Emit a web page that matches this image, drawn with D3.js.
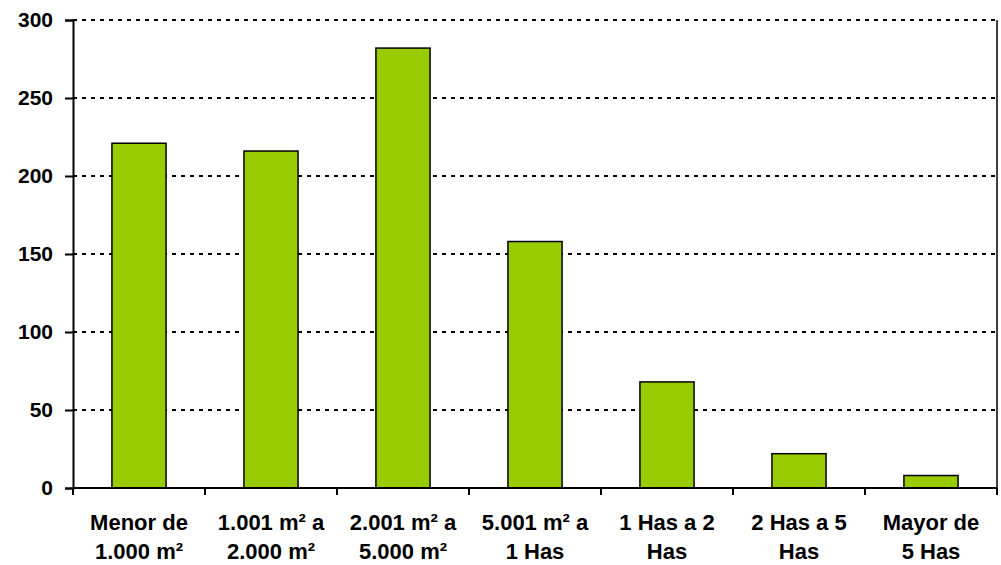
<!DOCTYPE html>
<html>
<head>
<meta charset="utf-8">
<script src="https://cdn.jsdelivr.net/npm/d3@7"></script>
<style>
  body { margin: 0; background: #fff; }
  svg { display: block; }
  text { font-family: "Liberation Sans", Arial, sans-serif; font-weight: bold; fill: #000; }
</style>
</head>
<body>
<svg width="1001" height="565"></svg>
<script>
// categories (two text lines each) and values
var categories = ["Menor de|1.000 m²", "1.001 m² a|2.000 m²", "2.001 m² a|5.000 m²",
  "5.001 m² a|1 Has", "1 Has a 2|Has", "2 Has a 5|Has", "Mayor de|5 Has"];
var values = [221, 216, 282, 158, 68, 22, 8];
var yTicks = [0, 50, 100, 150, 200, 250, 300];

var svg = d3.select("svg");
var plotLeft = 73, plotRight = 997, plotTop = 20, plotBottom = 488;

var x = d3.scaleBand()
  .domain(categories)
  .range([plotLeft, plotRight])
  .paddingInner(0.59)
  .paddingOuter(0.295);

var y = d3.scaleLinear()
  .domain([0, 300])
  .range([plotBottom, plotTop]);

// dashed gridlines
svg.append("g")
  .selectAll("line")
  .data(yTicks.filter(function(d) { return d > 0; }))
  .enter().append("line")
  .attr("x1", plotLeft).attr("x2", plotRight)
  .attr("y1", function(d) { return y(d); })
  .attr("y2", function(d) { return y(d); })
  .style("stroke", "#000")
  .style("stroke-width", 2)
  .style("stroke-dasharray", "4,5");

// right border
svg.append("line")
  .attr("x1", plotRight).attr("x2", plotRight)
  .attr("y1", plotTop).attr("y2", plotBottom)
  .style("stroke", "#000")
  .style("stroke-width", 1.5);

// bars
svg.append("g")
  .selectAll("rect")
  .data(values)
  .enter().append("rect")
  .attr("x", function(d, i) { return x(categories[i]); })
  .attr("y", function(d) { return y(d); })
  .attr("width", x.bandwidth())
  .attr("height", function(d) { return plotBottom - y(d); })
  .style("fill", "#99cc00")
  .style("stroke", "#000")
  .style("stroke-width", 1.5);

// y axis
var yAxis = svg.append("g")
  .attr("transform", "translate(" + plotLeft + ",0)")
  .call(d3.axisLeft(y).tickValues(yTicks).tickSize(8).tickPadding(12));
yAxis.select(".domain").style("stroke-width", 2);
yAxis.selectAll(".tick line").style("stroke-width", 2);
yAxis.selectAll("text")
  .style("font-size", "21px")
  .style("font-family", "'Liberation Sans', Arial, sans-serif")
  .style("font-weight", "bold");

// x axis: ticks at category boundaries
var bounds = d3.range(categories.length + 1).map(function(i) {
  return plotLeft + i * x.step();
});
svg.append("line")
  .attr("x1", plotLeft).attr("x2", plotRight)
  .attr("y1", plotBottom).attr("y2", plotBottom)
  .style("stroke", "#000")
  .style("stroke-width", 2);
svg.append("g")
  .selectAll("line")
  .data(bounds)
  .enter().append("line")
  .attr("x1", function(d) { return d; })
  .attr("x2", function(d) { return d; })
  .attr("y1", plotBottom).attr("y2", plotBottom + 7)
  .style("stroke", "#000")
  .style("stroke-width", 2);

var labels = svg.append("g")
  .selectAll("text")
  .data(categories)
  .enter().append("text")
  .attr("text-anchor", "middle")
  .style("font-size", "22px")
  .attr("transform", function(d) {
    return "translate(" + (x(d) + x.bandwidth() / 2) + ",530)";
  });
labels.selectAll("tspan")
  .data(function(d) { return d.split("|"); })
  .enter().append("tspan")
  .attr("x", 0)
  .attr("dy", function(d, i) { return i === 0 ? 0 : 29; })
  .text(function(d) { return d; });
</script>
</body>
</html>
